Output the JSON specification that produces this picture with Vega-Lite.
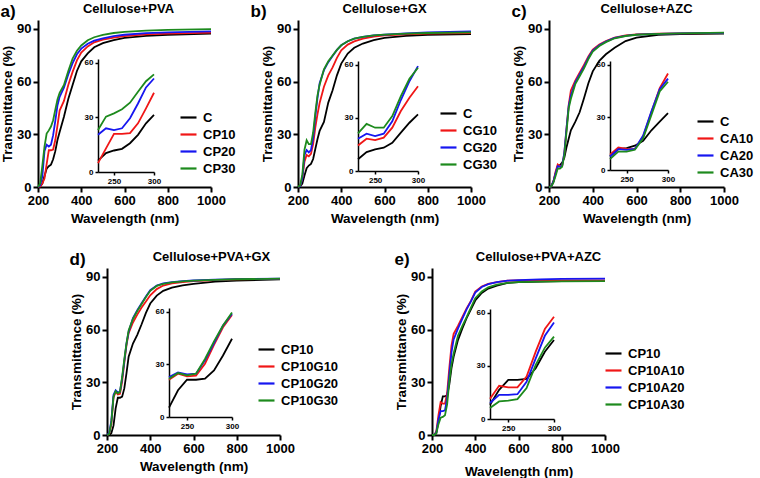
{
  "$schema": "https://vega.github.io/schema/vega-lite/v6.json",
  "background": "white",
  "padding": {"left": 0, "top": 3, "right": 2, "bottom": 2},
  "config": {
    "font": "Liberation Sans",
    "view": {"stroke": null},
    "axis": {"grid": false, "labelFlush": false, "labelOverlap": false, "format": "d", "domainColor": "black", "domainWidth": 2, "tickColor": "black", "tickWidth": 2, "tickSize": 5, "labelColor": "black", "labelFontWeight": "bold", "labelFontSize": 13, "titleFontSize": 13.5, "titleFontWeight": "bold", "titleColor": "black", "labelPadding": 2},
    "axisY": {"titlePadding": 2},
    "legend": {"symbolType": "stroke", "symbolStrokeWidth": 2.2, "symbolSize": 256, "labelFontSize": 13, "labelFontWeight": "bold", "labelColor": "black", "rowPadding": 0, "labelOffset": 5, "orient": "none"},
    "title": {"color": "black", "fontWeight": "bold"}
  },
  "datasets": {
    "a": [
      {"w":200,"C":0,"CP10":0,"CP20":0,"CP30":0},
      {"w":210,"C":0.3,"CP10":0.3,"CP20":1,"CP30":2},
      {"w":220,"C":2,"CP10":2,"CP20":6,"CP30":12},
      {"w":230,"C":6.2,"CP10":4.9,"CP20":20.4,"CP30":23},
      {"w":240,"C":10.4,"CP10":13,"CP20":24,"CP30":30.4},
      {"w":250,"C":11.8,"CP10":20.9,"CP20":23,"CP30":32.2},
      {"w":260,"C":12.7,"CP10":20.9,"CP20":24,"CP30":34.4},
      {"w":270,"C":15.8,"CP10":21.3,"CP20":29.5,"CP30":38},
      {"w":280,"C":20.4,"CP10":26.7,"CP20":37.6,"CP30":44},
      {"w":290,"C":26.7,"CP10":34.9,"CP20":46.4,"CP30":49.8},
      {"w":300,"C":31.3,"CP10":43.5,"CP20":51.3,"CP30":53.6},
      {"w":320,"C":40,"CP10":49,"CP20":56.5,"CP30":58},
      {"w":340,"C":50,"CP10":58,"CP20":64,"CP30":66},
      {"w":360,"C":58,"CP10":65.5,"CP20":70.5,"CP30":73},
      {"w":380,"C":66,"CP10":72,"CP20":75.5,"CP30":77.5},
      {"w":400,"C":71.5,"CP10":76.5,"CP20":78.7,"CP30":80.5},
      {"w":430,"C":76,"CP10":80,"CP20":81.5,"CP30":83.5},
      {"w":460,"C":79.5,"CP10":82.3,"CP20":83.3,"CP30":85.2},
      {"w":500,"C":81.8,"CP10":83.8,"CP20":84.6,"CP30":86.5},
      {"w":550,"C":83.5,"CP10":85,"CP20":85.8,"CP30":87.6},
      {"w":600,"C":84.8,"CP10":85.8,"CP20":86.6,"CP30":88.3},
      {"w":700,"C":86,"CP10":86.8,"CP20":87.5,"CP30":89},
      {"w":800,"C":86.6,"CP10":87.3,"CP20":88,"CP30":89.4},
      {"w":1000,"C":87.2,"CP10":87.8,"CP20":88.5,"CP30":89.8}
    ],
    "b": [
      {"w":200,"C":0,"CG10":0,"CG20":0,"CG30":0},
      {"w":210,"C":0.3,"CG10":0.5,"CG20":0.5,"CG30":1},
      {"w":220,"C":2,"CG10":5,"CG20":5,"CG30":7},
      {"w":230,"C":6.6,"CG10":14.4,"CG20":18.2,"CG30":21.2},
      {"w":240,"C":10.7,"CG10":18.2,"CG20":21,"CG30":26.6},
      {"w":250,"C":12.2,"CG10":17.4,"CG20":19.7,"CG30":24.4},
      {"w":260,"C":13.1,"CG10":18.8,"CG20":21,"CG30":24.4},
      {"w":270,"C":15.9,"CG10":24.4,"CG20":28,"CG30":31},
      {"w":280,"C":21.6,"CG10":33.8,"CG20":40,"CG30":42.2},
      {"w":290,"C":27.2,"CG10":41.3,"CG20":50.6,"CG30":52},
      {"w":300,"C":31.9,"CG10":47.8,"CG20":59.1,"CG30":58.2},
      {"w":320,"C":37,"CG10":57,"CG20":66.5,"CG30":67},
      {"w":340,"C":48,"CG10":63.5,"CG20":71,"CG30":71.5},
      {"w":360,"C":55,"CG10":68,"CG20":74.5,"CG30":74.8},
      {"w":380,"C":63.5,"CG10":73.5,"CG20":78,"CG30":78},
      {"w":400,"C":70.2,"CG10":77.8,"CG20":80.6,"CG30":80.6},
      {"w":430,"C":75.9,"CG10":81,"CG20":82.9,"CG30":82.9},
      {"w":460,"C":79.2,"CG10":82.8,"CG20":84.4,"CG30":84.4},
      {"w":500,"C":81.6,"CG10":84.4,"CG20":85.4,"CG30":85.4},
      {"w":550,"C":83.5,"CG10":85.6,"CG20":86.3,"CG30":86.3},
      {"w":600,"C":84.8,"CG10":86.3,"CG20":86.7,"CG30":86.7},
      {"w":700,"C":86,"CG10":86.9,"CG20":87.4,"CG30":87.3},
      {"w":800,"C":86.6,"CG10":87.2,"CG20":87.9,"CG30":87.6},
      {"w":1000,"C":87,"CG10":87.5,"CG20":88.5,"CG30":88}
    ],
    "c": [
      {"w":200,"C":0,"CA10":0,"CA20":0,"CA30":0},
      {"w":210,"C":0.3,"CA10":0.3,"CA20":0.3,"CA30":0.3},
      {"w":220,"C":3,"CA10":3,"CA20":3,"CA30":2.5},
      {"w":230,"C":7.7,"CA10":8.7,"CA20":7.7,"CA30":6.2},
      {"w":240,"C":11.9,"CA10":12.8,"CA20":11.9,"CA30":10.5},
      {"w":250,"C":12.5,"CA10":12,"CA20":11.5,"CA30":10.5},
      {"w":260,"C":13.8,"CA10":11.9,"CA20":12,"CA30":11.5},
      {"w":270,"C":16.6,"CA10":19,"CA20":19.6,"CA30":18},
      {"w":280,"C":22.6,"CA10":33,"CA20":33.4,"CA30":31.3},
      {"w":290,"C":27.5,"CA10":46.6,"CA20":46,"CA30":44.7},
      {"w":300,"C":32.3,"CA10":54.9,"CA20":52,"CA30":50.2},
      {"w":320,"C":37,"CA10":60.5,"CA20":59.5,"CA30":58.5},
      {"w":340,"C":42.5,"CA10":65,"CA20":64,"CA30":63},
      {"w":360,"C":50.5,"CA10":69.5,"CA20":68.5,"CA30":67.5},
      {"w":380,"C":59,"CA10":74.2,"CA20":73.5,"CA30":72.8},
      {"w":400,"C":65.8,"CA10":78.2,"CA20":77.6,"CA30":77},
      {"w":430,"C":71.8,"CA10":81,"CA20":80.6,"CA30":80.2},
      {"w":460,"C":75.5,"CA10":83,"CA20":82.7,"CA30":82.4},
      {"w":500,"C":79.2,"CA10":85,"CA20":84.8,"CA30":84.6},
      {"w":550,"C":83,"CA10":86.2,"CA20":86,"CA30":85.9},
      {"w":600,"C":85,"CA10":86.8,"CA20":86.7,"CA30":86.6},
      {"w":700,"C":86.6,"CA10":87.2,"CA20":87.1,"CA30":87.1},
      {"w":800,"C":87,"CA10":87.4,"CA20":87.4,"CA30":87.4},
      {"w":1000,"C":87.3,"CA10":87.6,"CA20":87.7,"CA30":87.8}
    ],
    "d": [
      {"w":200,"CP10":0,"CP10G10":0,"CP10G20":0,"CP10G30":0},
      {"w":210,"CP10":0,"CP10G10":0.5,"CP10G20":1,"CP10G30":0.5},
      {"w":220,"CP10":1,"CP10G10":6,"CP10G20":8,"CP10G30":7},
      {"w":230,"CP10":5.3,"CP10G10":21.2,"CP10G20":22.7,"CP10G30":21.8},
      {"w":240,"CP10":15.2,"CP10G10":24.6,"CP10G20":25.4,"CP10G30":25},
      {"w":250,"CP10":21.2,"CP10G10":23.1,"CP10G20":24.2,"CP10G30":23.7},
      {"w":260,"CP10":21.2,"CP10G10":23.5,"CP10G20":24.6,"CP10G30":24.6},
      {"w":270,"CP10":21.8,"CP10G10":30.3,"CP10G20":32.2,"CP10G30":33},
      {"w":280,"CP10":26.5,"CP10G10":41,"CP10G20":42,"CP10G30":43},
      {"w":290,"CP10":35,"CP10G10":51,"CP10G20":52,"CP10G30":52},
      {"w":300,"CP10":44.5,"CP10G10":58,"CP10G20":58.7,"CP10G30":59.5},
      {"w":320,"CP10":52,"CP10G10":64,"CP10G20":66.5,"CP10G30":66},
      {"w":340,"CP10":57,"CP10G10":68.5,"CP10G20":71,"CP10G30":70.5},
      {"w":360,"CP10":63,"CP10G10":72.5,"CP10G20":75,"CP10G30":74.5},
      {"w":380,"CP10":69.5,"CP10G10":76,"CP10G20":78.8,"CP10G30":78.5},
      {"w":400,"CP10":74.8,"CP10G10":79.5,"CP10G20":82.4,"CP10G30":82},
      {"w":430,"CP10":79.3,"CP10G10":83,"CP10G20":85,"CP10G30":84.8},
      {"w":460,"CP10":82,"CP10G10":85,"CP10G20":86.2,"CP10G30":86},
      {"w":500,"CP10":83.8,"CP10G10":86.2,"CP10G20":87,"CP10G30":86.8},
      {"w":550,"CP10":85.1,"CP10G10":87,"CP10G20":87.5,"CP10G30":87.4},
      {"w":600,"CP10":86,"CP10G10":87.5,"CP10G20":87.9,"CP10G30":87.8},
      {"w":700,"CP10":87.2,"CP10G10":88.1,"CP10G20":88.4,"CP10G30":88.3},
      {"w":800,"CP10":87.8,"CP10G10":88.5,"CP10G20":88.7,"CP10G30":88.6},
      {"w":1000,"CP10":88.5,"CP10G10":88.8,"CP10G20":89,"CP10G30":88.9}
    ],
    "e": [
      {"w":200,"CP10":0,"CP10A10":0,"CP10A20":0,"CP10A30":0},
      {"w":210,"CP10":0,"CP10A10":0,"CP10A20":0,"CP10A30":0},
      {"w":220,"CP10":1,"CP10A10":2,"CP10A20":1.5,"CP10A30":1},
      {"w":230,"CP10":8,"CP10A10":11.4,"CP10A20":9,"CP10A30":6.2},
      {"w":240,"CP10":16.4,"CP10A10":18.7,"CP10A20":13.6,"CP10A30":9.9},
      {"w":250,"CP10":22,"CP10A10":17.8,"CP10A20":13.6,"CP10A30":10.3},
      {"w":260,"CP10":22,"CP10A10":17.8,"CP10A20":14,"CP10A30":11.2},
      {"w":270,"CP10":22.6,"CP10A10":23.9,"CP10A20":21,"CP10A30":17.4},
      {"w":280,"CP10":28.6,"CP10A10":38,"CP10A20":34.2,"CP10A30":30.5},
      {"w":290,"CP10":37.9,"CP10A10":50.7,"CP10A20":46.9,"CP10A30":40.2},
      {"w":300,"CP10":44.5,"CP10A10":57.6,"CP10A20":54.4,"CP10A30":46.4},
      {"w":320,"CP10":54,"CP10A10":62,"CP10A20":60.5,"CP10A30":56.5},
      {"w":340,"CP10":60.5,"CP10A10":67,"CP10A20":66,"CP10A30":62},
      {"w":360,"CP10":66.5,"CP10A10":72,"CP10A20":71.5,"CP10A30":67},
      {"w":380,"CP10":71.5,"CP10A10":76.3,"CP10A20":76,"CP10A30":72.5},
      {"w":400,"CP10":76.5,"CP10A10":81.6,"CP10A20":81,"CP10A30":77.8},
      {"w":430,"CP10":80.8,"CP10A10":84.5,"CP10A20":84.2,"CP10A30":81.6},
      {"w":460,"CP10":83.3,"CP10A10":86,"CP10A20":85.8,"CP10A30":84},
      {"w":500,"CP10":85,"CP10A10":87,"CP10A20":87,"CP10A30":85.5},
      {"w":550,"CP10":86.5,"CP10A10":87.8,"CP10A20":87.8,"CP10A30":86.5},
      {"w":600,"CP10":87,"CP10A10":88,"CP10A20":88.1,"CP10A30":87},
      {"w":700,"CP10":87.3,"CP10A10":88,"CP10A20":88.5,"CP10A30":87.3},
      {"w":800,"CP10":87.5,"CP10A10":88,"CP10A20":88.8,"CP10A30":87.4},
      {"w":1000,"CP10":87.5,"CP10A10":88,"CP10A20":89,"CP10A30":87.5}
    ]
  },
  "center": true,
  "spacing": 26,
  "resolve": {"scale": {"color": "independent"}},
  "vconcat": [
    {
      "spacing": 14,
      "resolve": {"scale": {"color": "independent"}},
      "hconcat": [
        {
          "title": {"text": "a)", "anchor": "start", "fontSize": 17, "offset": -18},
          "hconcat": [{
            "width": 173, "height": 167,
            "title": {"text": "Cellulose+PVA", "fontSize": 13, "dx": 4, "offset": 4},
            "data": {"name": "a"},
            "transform": [{"fold": ["C", "CP10", "CP20", "CP30"], "as": ["s", "t"]}],
            "layer": [
              {"mark": {"type": "line", "strokeWidth": 1.8}, "encoding": {
                "x": {"field": "w", "type": "quantitative", "scale": {"domain": [200, 1000], "nice": false, "zero": false}, "axis": {"title": "Wavelength (nm)", "values": [200, 400, 600, 800, 1000]}},
                "y": {"field": "t", "type": "quantitative", "scale": {"domain": [0, 95], "nice": false}, "axis": {"title": "Transmittance (%)", "values": [0, 30, 60, 90]}},
                "color": {"field": "s", "type": "nominal", "scale": {"domain": ["C", "CP10", "CP20", "CP30"], "range": ["#000000", "#f01616", "#1616f0", "#1d8a1d"]}, "legend": {"title": null, "legendX": 141, "legendY": 88}}}},
              {"transform": [{"filter": "datum.w >= 230 && datum.w <= 300"}], "mark": {"type": "line", "strokeWidth": 1.8}, "encoding": {
                "x": {"field": "w", "type": "quantitative", "scale": {"domain": [230, 300], "range": [60, 116], "nice": false, "zero": false}, "axis": {"orient": "bottom", "offset": -15, "title": null, "values": [250, 300], "labelFontSize": 8, "tickSize": 3, "domainWidth": 1.5, "tickWidth": 1.5}},
                "y": {"field": "t", "type": "quantitative", "scale": {"domain": [0, 62], "range": [152, 39], "nice": false}, "axis": {"orient": "left", "offset": -60, "title": null, "values": [0, 30, 60], "labelFontSize": 8, "tickSize": 3, "domainWidth": 1.5, "tickWidth": 1.5}},
                "color": {"field": "s", "type": "nominal", "legend": null}}}
            ],
            "resolve": {"scale": {"x": "independent", "y": "independent"}}
          }]
        },
        {
          "title": {"text": "b)", "anchor": "start", "fontSize": 17, "offset": -18, "dx": -10},
          "hconcat": [{
            "width": 173, "height": 167,
            "title": {"text": "Cellulose+GX", "fontSize": 13, "dx": 0, "offset": 4},
            "data": {"name": "b"},
            "transform": [{"fold": ["C", "CG10", "CG20", "CG30"], "as": ["s", "t"]}],
            "layer": [
              {"mark": {"type": "line", "strokeWidth": 1.8}, "encoding": {
                "x": {"field": "w", "type": "quantitative", "scale": {"domain": [200, 1000], "nice": false, "zero": false}, "axis": {"title": "Wavelength (nm)", "values": [200, 400, 600, 800, 1000]}},
                "y": {"field": "t", "type": "quantitative", "scale": {"domain": [0, 95], "nice": false}, "axis": {"title": "Transmittance (%)", "values": [0, 30, 60, 90]}},
                "color": {"field": "s", "type": "nominal", "scale": {"domain": ["C", "CG10", "CG20", "CG30"], "range": ["#000000", "#f01616", "#1616f0", "#1d8a1d"]}, "legend": {"title": null, "legendX": 141, "legendY": 84}}}},
              {"transform": [{"filter": "datum.w >= 230 && datum.w <= 300"}], "mark": {"type": "line", "strokeWidth": 1.8}, "encoding": {
                "x": {"field": "w", "type": "quantitative", "scale": {"domain": [230, 300], "range": [60, 120], "nice": false, "zero": false}, "axis": {"orient": "bottom", "offset": -16, "title": null, "values": [250, 300], "labelFontSize": 8, "tickSize": 3, "domainWidth": 1.5, "tickWidth": 1.5}},
                "y": {"field": "t", "type": "quantitative", "scale": {"domain": [0, 62], "range": [151, 41], "nice": false}, "axis": {"orient": "left", "offset": -60, "title": null, "values": [0, 30, 60], "labelFontSize": 8, "tickSize": 3, "domainWidth": 1.5, "tickWidth": 1.5}},
                "color": {"field": "s", "type": "nominal", "legend": null}}}
            ],
            "resolve": {"scale": {"x": "independent", "y": "independent"}}
          }]
        },
        {
          "title": {"text": "c)", "anchor": "start", "fontSize": 17, "offset": -18},
          "hconcat": [{
            "width": 175, "height": 167,
            "title": {"text": "Cellulose+AZC", "fontSize": 13, "dx": 10, "offset": 4},
            "data": {"name": "c"},
            "transform": [{"fold": ["C", "CA10", "CA20", "CA30"], "as": ["s", "t"]}],
            "layer": [
              {"mark": {"type": "line", "strokeWidth": 1.8}, "encoding": {
                "x": {"field": "w", "type": "quantitative", "scale": {"domain": [200, 1000], "nice": false, "zero": false}, "axis": {"title": "Wavelength (nm)", "values": [200, 400, 600, 800, 1000]}},
                "y": {"field": "t", "type": "quantitative", "scale": {"domain": [0, 95], "nice": false}, "axis": {"title": "Transmittance (%)", "values": [0, 30, 60, 90]}},
                "color": {"field": "s", "type": "nominal", "scale": {"domain": ["C", "CA10", "CA20", "CA30"], "range": ["#000000", "#f01616", "#1616f0", "#1d8a1d"]}, "legend": {"title": null, "legendX": 147, "legendY": 92}}}},
              {"transform": [{"filter": "datum.w >= 230 && datum.w <= 300"}], "mark": {"type": "line", "strokeWidth": 1.8}, "encoding": {
                "x": {"field": "w", "type": "quantitative", "scale": {"domain": [230, 300], "range": [61, 119], "nice": false, "zero": false}, "axis": {"orient": "bottom", "offset": -17, "title": null, "values": [250, 300], "labelFontSize": 8, "tickSize": 3, "domainWidth": 1.5, "tickWidth": 1.5}},
                "y": {"field": "t", "type": "quantitative", "scale": {"domain": [0, 62], "range": [150, 41], "nice": false}, "axis": {"orient": "left", "offset": -61, "title": null, "values": [0, 30, 60], "labelFontSize": 8, "tickSize": 3, "domainWidth": 1.5, "tickWidth": 1.5}},
                "color": {"field": "s", "type": "nominal", "legend": null}}}
            ],
            "resolve": {"scale": {"x": "independent", "y": "independent"}}
          }]
        }
      ]
    },
    {
      "spacing": 55,
      "resolve": {"scale": {"color": "independent"}},
      "hconcat": [
        {
          "title": {"text": "d)", "anchor": "start", "fontSize": 17, "offset": -18},
          "hconcat": [{
            "width": 173, "height": 167,
            "title": {"text": "Cellulose+PVA+GX", "fontSize": 13, "dx": 18, "offset": 4},
            "data": {"name": "d"},
            "transform": [{"fold": ["CP10", "CP10G10", "CP10G20", "CP10G30"], "as": ["s", "t"]}],
            "layer": [
              {"mark": {"type": "line", "strokeWidth": 1.8}, "encoding": {
                "x": {"field": "w", "type": "quantitative", "scale": {"domain": [200, 1000], "nice": false, "zero": false}, "axis": {"title": "Wavelength (nm)", "values": [200, 400, 600, 800, 1000]}},
                "y": {"field": "t", "type": "quantitative", "scale": {"domain": [0, 95], "nice": false}, "axis": {"title": "Transmittance (%)", "values": [0, 30, 60, 90]}},
                "color": {"field": "s", "type": "nominal", "scale": {"domain": ["CP10", "CP10G10", "CP10G20", "CP10G30"], "range": ["#000000", "#f01616", "#1616f0", "#1d8a1d"]}, "legend": {"title": null, "legendX": 150, "legendY": 72}}}},
              {"transform": [{"filter": "datum.w >= 230 && datum.w <= 300"}], "mark": {"type": "line", "strokeWidth": 1.8}, "encoding": {
                "x": {"field": "w", "type": "quantitative", "scale": {"domain": [230, 300], "range": [62, 125], "nice": false, "zero": false}, "axis": {"orient": "bottom", "offset": -18, "title": null, "values": [250, 300], "labelFontSize": 8, "tickSize": 3, "domainWidth": 1.5, "tickWidth": 1.5}},
                "y": {"field": "t", "type": "quantitative", "scale": {"domain": [0, 62], "range": [149, 40], "nice": false}, "axis": {"orient": "left", "offset": -62, "title": null, "values": [0, 30, 60], "labelFontSize": 8, "tickSize": 3, "domainWidth": 1.5, "tickWidth": 1.5}},
                "color": {"field": "s", "type": "nominal", "legend": null}}}
            ],
            "resolve": {"scale": {"x": "independent", "y": "independent"}}
          }]
        },
        {
          "title": {"text": "e)", "anchor": "start", "fontSize": 17, "offset": -18},
          "hconcat": [{
            "width": 173, "height": 167,
            "title": {"text": "Cellulose+PVA+AZC", "fontSize": 13, "dx": 20, "offset": 4},
            "data": {"name": "e"},
            "transform": [{"fold": ["CP10", "CP10A10", "CP10A20", "CP10A30"], "as": ["s", "t"]}],
            "layer": [
              {"mark": {"type": "line", "strokeWidth": 1.8}, "encoding": {
                "x": {"field": "w", "type": "quantitative", "scale": {"domain": [200, 1000], "nice": false, "zero": false}, "axis": {"title": "Wavelength (nm)", "values": [200, 400, 600, 800, 1000], "titlePadding": 9}},
                "y": {"field": "t", "type": "quantitative", "scale": {"domain": [0, 95], "nice": false}, "axis": {"title": "Transmittance (%)", "values": [0, 30, 60, 90]}},
                "color": {"field": "s", "type": "nominal", "scale": {"domain": ["CP10", "CP10A10", "CP10A20", "CP10A30"], "range": ["#000000", "#f01616", "#1616f0", "#1d8a1d"]}, "legend": {"title": null, "legendX": 172, "legendY": 76}}}},
              {"transform": [{"filter": "datum.w >= 230 && datum.w <= 300"}], "mark": {"type": "line", "strokeWidth": 1.8}, "encoding": {
                "x": {"field": "w", "type": "quantitative", "scale": {"domain": [230, 300], "range": [58, 122], "nice": false, "zero": false}, "axis": {"orient": "bottom", "offset": -16, "title": null, "values": [250, 300], "labelFontSize": 8, "tickSize": 3, "domainWidth": 1.5, "tickWidth": 1.5}},
                "y": {"field": "t", "type": "quantitative", "scale": {"domain": [0, 62], "range": [151, 41], "nice": false}, "axis": {"orient": "left", "offset": -58, "title": null, "values": [0, 30, 60], "labelFontSize": 8, "tickSize": 3, "domainWidth": 1.5, "tickWidth": 1.5}},
                "color": {"field": "s", "type": "nominal", "legend": null}}}
            ],
            "resolve": {"scale": {"x": "independent", "y": "independent"}}
          }]
        }
      ]
    }
  ]
}
